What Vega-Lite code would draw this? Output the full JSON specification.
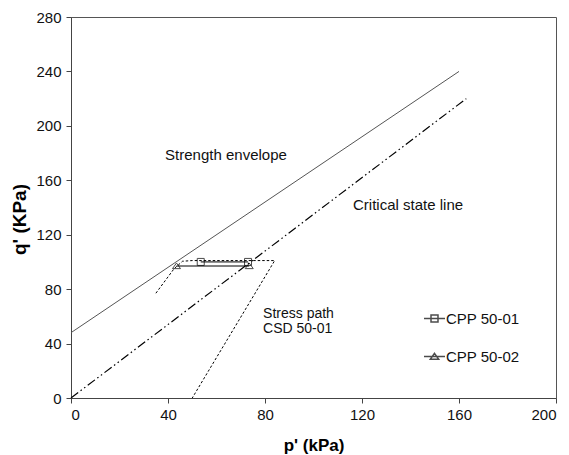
{
  "$schema": "https://vega.github.io/schema/vega-lite/v6.json",
  "width": 485,
  "height": 381,
  "autosize": "none",
  "padding": {"left": 71, "top": 17, "right": 13, "bottom": 57},
  "background": "white",
  "datasets": {
    "envelope": [{"p": 0, "q": 48}, {"p": 160, "q": 240}],
    "csl": [{"p": 0, "q": 0}, {"p": 163, "q": 220}],
    "stressPath": [
      {"step": 1, "p": 35, "q": 77},
      {"step": 2, "p": 42.5, "q": 95},
      {"step": 3, "p": 46, "q": 100.5},
      {"step": 4, "p": 50, "q": 101},
      {"step": 5, "p": 84, "q": 101},
      {"step": 6, "p": 50, "q": 0}
    ],
    "tests": [
      {"series": "CPP 50-01", "p": 53.5, "q": 100},
      {"series": "CPP 50-01", "p": 73, "q": 100},
      {"series": "CPP 50-02", "p": 43.5, "q": 97},
      {"series": "CPP 50-02", "p": 73.5, "q": 97}
    ],
    "notes": [
      {"label": "Strength envelope", "p": 38.8, "q": 175},
      {"label": "Critical state line", "p": 116.3, "q": 138.4}
    ],
    "pathNote": [
      {"label": "Stress path", "p": 79.2, "q": 58.6},
      {"label": "CSD 50-01", "p": 79.2, "q": 47.6}
    ]
  },
  "encoding": {
    "x": {
      "field": "p",
      "type": "quantitative",
      "scale": {"domain": [0, 200], "nice": false, "zero": false},
      "axis": {
        "title": "p' (kPa)",
        "values": [0, 40, 80, 120, 160, 200],
        "grid": false,
        "tickSize": 5,
        "labelFontSize": 15,
        "labelPadding": 4,
        "titleFontSize": 17,
        "titleFontWeight": "bold",
        "titlePadding": 15
      }
    },
    "y": {
      "field": "q",
      "type": "quantitative",
      "scale": {"domain": [0, 280], "nice": false, "zero": false},
      "axis": {
        "title": "q' (KPa)",
        "values": [0, 40, 80, 120, 160, 200, 240, 280],
        "grid": false,
        "tickSize": 5,
        "labelFontSize": 15,
        "labelPadding": 5,
        "titleFontSize": 19,
        "titleFontWeight": "bold",
        "titlePadding": 6,
        "titleY": 202
      }
    }
  },
  "resolve": {"scale": {"shape": "independent"}, "legend": {"shape": "independent"}},
  "layer": [
    {
      "data": {"name": "envelope"},
      "mark": {"type": "line", "color": "#555", "strokeWidth": 1}
    },
    {
      "data": {"name": "csl"},
      "mark": {"type": "line", "color": "#000", "strokeWidth": 1.2, "strokeDash": [9, 3, 1.5, 3, 1.5, 3]}
    },
    {
      "data": {"name": "stressPath"},
      "mark": {"type": "line", "color": "#000", "strokeWidth": 1, "strokeDash": [2.5, 2]},
      "encoding": {"order": {"field": "step", "type": "quantitative"}}
    },
    {
      "data": {"name": "tests"},
      "mark": {"type": "line", "color": "#000", "strokeWidth": 1},
      "encoding": {"detail": {"field": "series", "type": "nominal"}}
    },
    {
      "data": {"name": "tests"},
      "mark": {"type": "point", "filled": false, "size": 49, "strokeWidth": 1, "color": "#000"},
      "encoding": {
        "shape": {
          "field": "series",
          "type": "nominal",
          "scale": {
            "domain": ["CPP 50-01", "CPP 50-02"],
            "range": ["square", "M0,-0.85L1.15,0.75H-1.15Z"]
          },
          "legend": null
        }
      }
    },
    {
      "data": {"name": "tests"},
      "transform": [{"filter": "false"}],
      "mark": {"type": "point", "filled": false, "size": 441, "strokeWidth": 1, "color": "#000"},
      "encoding": {
        "shape": {
          "field": "series",
          "type": "nominal",
          "scale": {
            "domain": ["CPP 50-01", "CPP 50-02"],
            "range": ["M-1,0H1M-0.333,-0.333H0.333V0.333H-0.333Z", "M-1,0H1M0,-0.3L0.4,0.27H-0.4Z"]
          },
          "legend": {
            "orient": "none",
            "legendX": 352,
            "legendY": 290,
            "title": null,
            "labelFont": "Liberation Sans",
            "labelFontSize": 15,
            "labelColor": "#111",
            "labelOffset": 0,
            "symbolSize": 441,
            "rowPadding": 18
          }
        }
      }
    },
    {
      "data": {"name": "notes"},
      "mark": {"type": "text", "align": "left", "baseline": "alphabetic", "fontSize": 15, "font": "Liberation Sans", "color": "#111"},
      "encoding": {"text": {"field": "label", "type": "nominal"}}
    },
    {
      "data": {"name": "pathNote"},
      "mark": {"type": "text", "align": "left", "baseline": "alphabetic", "fontSize": 14, "font": "Liberation Sans", "color": "#111"},
      "encoding": {"text": {"field": "label", "type": "nominal"}}
    }
  ],
  "config": {
    "font": "Liberation Sans",
    "axis": {
      "domainColor": "#444",
      "tickColor": "#444",
      "labelColor": "#111",
      "titleColor": "#000",
      "labelFont": "Liberation Sans",
      "titleFont": "Liberation Sans"
    },
    "view": {"stroke": "#555", "strokeWidth": 1}
  }
}
